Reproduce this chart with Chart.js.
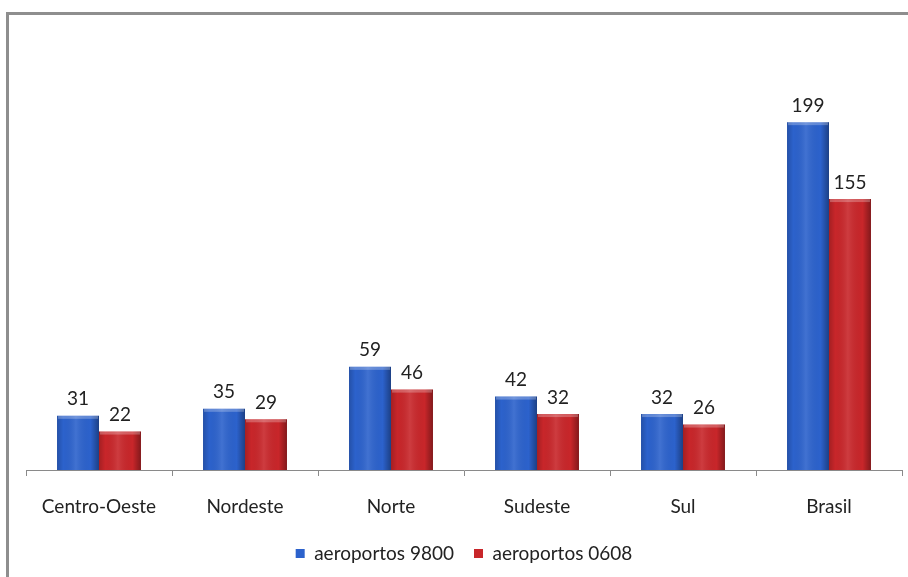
<!DOCTYPE html>
<html>
<head>
<meta charset="utf-8">
<script src="https://cdn.jsdelivr.net/npm/chart.js@4"></script>
<style>
    html, body { margin: 0; padding: 0; background: #fff; }
    #wrap { position: relative; width: 908px; height: 577px; overflow: hidden; }
    #frame {
        position: absolute; left: 6px; top: 12px; right: -10px; bottom: -10px;
        border-top: 3px solid #8e8e8e; border-left: 3px solid #8e8e8e;
    }
    canvas { position: absolute; left: 0; top: 0; }
</style>
</head>
<body>
<div id="wrap">
    <div id="frame"></div>
    <canvas id="airportChart" width="908" height="577"></canvas>
</div>
<script>
const regioes = ["Centro-Oeste", "Nordeste", "Norte", "Sudeste", "Sul", "Brasil"];
const aeroportos9800 = [31, 35, 59, 42, 32, 199];
const aeroportos0608 = [22, 29, 46, 32, 26, 155];
const serieNomes = ["aeroportos 9800", "aeroportos 0608"];

const FONT = "Lato, 'Liberation Sans', sans-serif";

// value labels above each bar + excel-like shading on the bars
const barExtras = {
    id: "barExtras",
    afterDatasetsDraw(chart) {
        const ctx = chart.ctx;
        chart.data.datasets.forEach((ds, di) => {
            const meta = chart.getDatasetMeta(di);
            meta.data.forEach((bar, i) => {
                const left = bar.x - bar.width / 2;
                const w = bar.width;
                const h = bar.base - bar.y;
                const g = ctx.createLinearGradient(left, 0, left + w, 0);
                g.addColorStop(0, "rgba(0,0,0,0.18)");
                g.addColorStop(0.15, "rgba(0,0,0,0)");
                g.addColorStop(0.45, "rgba(255,255,255,0.10)");
                g.addColorStop(0.8, "rgba(0,0,0,0)");
                g.addColorStop(1, "rgba(0,0,0,0.35)");
                ctx.save();
                ctx.fillStyle = g;
                ctx.fillRect(left, bar.y, w, h);
                ctx.fillStyle = "rgba(255,255,255,0.25)";
                ctx.fillRect(left + 1, bar.y, w - 2, 3);
                ctx.fillStyle = "#222";
                ctx.font = "19px " + FONT;
                ctx.textAlign = "center";
                ctx.textBaseline = "bottom";
                ctx.fillText(ds.data[i], bar.x, bar.y - 7);
                ctx.restore();
            });
        });
    },
};

new Chart(document.getElementById("airportChart"), {
    type: "bar",
    data: {
        labels: regioes,
        datasets: [
            {
                label: serieNomes[0],
                data: aeroportos9800,
                backgroundColor: "#2c62cc",
            },
            {
                label: serieNomes[1],
                data: aeroportos0608,
                backgroundColor: "#c8262a",
            },
        ],
    },
    options: {
        responsive: false,
        animation: false,
        layout: { padding: { left: 26, right: 6, top: 33, bottom: 4 } },
        datasets: {
            bar: { categoryPercentage: 0.575, barPercentage: 1.0, borderWidth: 0 },
        },
        plugins: {
            legend: {
                position: "bottom",
                labels: {
                    boxWidth: 9,
                    boxHeight: 9,
                    padding: 20,
                    color: "#222",
                    font: { family: FONT, size: 19 },
                },
            },
            tooltip: { enabled: false },
        },
        scales: {
            x: {
                grid: {
                    offset: true,
                    drawOnChartArea: false,
                    drawTicks: true,
                    tickLength: 6,
                    color: "#8a8a8a",
                },
                border: { color: "#8a8a8a", width: 1 },
                ticks: {
                    padding: 19,
                    color: "#222",
                    font: { family: FONT, size: 19 },
                },
                afterFit(scale) {
                    scale.height = 54;
                },
            },
            y: { display: false, min: 0, max: 250 },
        },
    },
    plugins: [barExtras],
});
</script>
</body>
</html>
